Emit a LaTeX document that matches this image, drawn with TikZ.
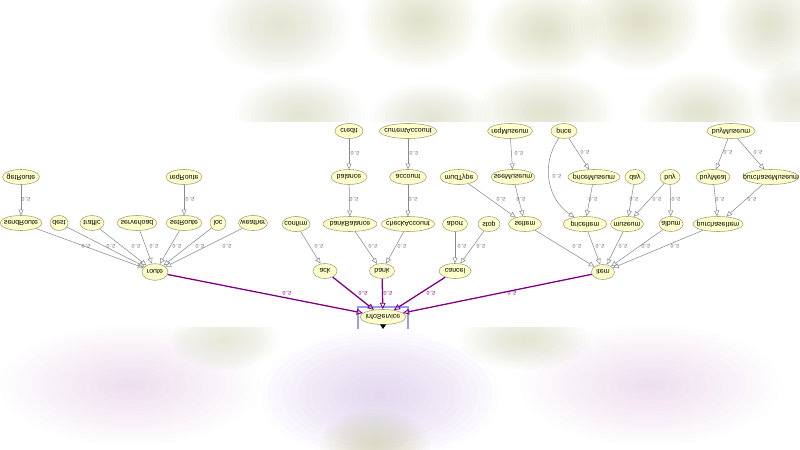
\documentclass[tikz,border=0pt]{standalone}
\usepackage{fontspec}
\setmainfont{Liberation Sans}
\usetikzlibrary{shapes.geometric,arrows.meta}
\definecolor{nodefill}{HTML}{FFFFCC}
\definecolor{nodeline}{HTML}{A3A37A}
\definecolor{edgegray}{HTML}{8A8A8A}
\definecolor{lblgray}{HTML}{6A6A6A}
\definecolor{mainpurple}{HTML}{800080}
\definecolor{boxblue}{HTML}{9A9AF0}
\definecolor{olivebg}{HTML}{C8C898}
\definecolor{lavbg}{HTML}{CDAEE0}
\newcommand{\fl}[1]{\makebox[0pt]{\scalebox{1}[-1]{#1}}}
% soft blob: x, y, rx, ry, colour, per-layer opacity
\newcommand{\softblob}[6]{%
  \foreach \k in {1,...,16}{%
    \fill[#5, opacity=#6] (#1,#2) ellipse ({#3*\k/16} and {#4*\k/16});}}
\begin{document}
\begin{tikzpicture}[x=0.3mm,y=-0.3mm,
  nd/.style={ellipse, draw=nodeline, fill=nodefill, line width=0.5pt, inner sep=0pt,
    minimum height=4.5mm, minimum width=#1*0.3mm, font=\fontsize{6}{7}\selectfont},
  nd/.default=30,
  gedge/.style={draw=edgegray, line width=0.45pt, -{Triangle[open,length=1.7mm,width=1.5mm]}},
  pedge/.style={draw=mainpurple, line width=1.1pt, -{Triangle[open,length=1.9mm,width=1.7mm,line width=0.7pt]}},
  lbl/.style={font=\fontsize{4.5}{5}\selectfont, text=lblgray, inner sep=0pt},
  plbl/.style={font=\fontsize{4.5}{5}\selectfont, text=mainpurple, inner sep=0pt}
]
\useasboundingbox (0,0) rectangle (800,450);
\fill[white] (0,0) rectangle (800,450);
% background bands
\begin{scope}
\clip (0,0) rectangle (800,122);
\softblob{280}{25}{70}{50}{olivebg}{0.027}
\softblob{420}{20}{60}{50}{olivebg}{0.035}
\softblob{545}{30}{60}{45}{olivebg}{0.035}
\softblob{640}{20}{60}{50}{olivebg}{0.04}
\softblob{770}{25}{50}{50}{olivebg}{0.03}
\softblob{300}{115}{65}{40}{olivebg}{0.027}
\softblob{430}{118}{60}{35}{olivebg}{0.027}
\softblob{545}{112}{70}{40}{olivebg}{0.03}
\softblob{700}{112}{60}{40}{olivebg}{0.03}
\softblob{795}{100}{40}{40}{olivebg}{0.025}
\end{scope}
\begin{scope}
\clip (0,328) rectangle (800,450);
\softblob{130}{385}{130}{60}{lavbg}{0.02}
\softblob{380}{395}{120}{65}{lavbg}{0.03}
\softblob{650}{385}{130}{60}{lavbg}{0.02}
\softblob{225}{340}{55}{30}{olivebg}{0.025}
\softblob{525}{340}{65}{30}{olivebg}{0.027}
\softblob{375}{445}{55}{35}{olivebg}{0.04}
\end{scope}

% row A
\node[nd=28] (credit) at (349,131) {\fl{credit}};
\node[nd=57] (currentAccount) at (408,131) {\fl{currentAccount}};
\node[nd=45] (reqMuseum) at (510,131) {\fl{reqMuseum}};
\node[nd=26] (price) at (564,131) {\fl{price}};
\node[nd=48] (buyMuseumT) at (731,131) {\fl{buyMuseum}};
% row B
\node[nd=37] (getRoute) at (21,177) {\fl{getRoute}};
\node[nd=36] (reqRoute) at (184,177) {\fl{reqRoute}};
\node[nd=36] (balance) at (349,177) {\fl{balance}};
\node[nd=37] (account) at (408,177) {\fl{account}};
\node[nd=38] (mudType) at (459,177) {\fl{mudType}};
\node[nd=44] (museumB) at (513,177) {\fl{seeMuseum}};
\node[nd=52] (priceMuseum) at (594,177) {\fl{priceMuseum}};
\node[nd=20] (day) at (635,177) {\fl{day}};
\node[nd=20] (buy) at (670,177) {\fl{buy}};
\node[nd=34] (buyB) at (713,177) {\fl{buyMeal}};
\node[nd=55] (purchaseMuseum) at (771,177) {\fl{purchaseMuseum}};
% row C
\node[nd=42] (sendRoute) at (21,223) {\fl{sendRoute}};
\node[nd=18] (dest) at (59,223) {\fl{dest}};
\node[nd=24] (traffic) at (92,223) {\fl{traffic}};
\node[nd=40] (serverload) at (137,223) {\fl{serverload}};
\node[nd=36] (setRoute) at (184,223) {\fl{setRoute}};
\node[nd=16] (loc) at (218,223) {\fl{loc}};
\node[nd=29] (weather) at (253,223) {\fl{weather}};
\node[nd=28] (confirm) at (296,224) {\fl{confirm}};
\node[nd=54] (bankBalance) at (350,224) {\fl{bankBalance}};
\node[nd=53] (checkAccount) at (408,224) {\fl{checkAccount}};
\node[nd=25] (abort) at (455,224) {\fl{abort}};
\node[nd=22] (stop) at (489,224) {\fl{stop}};
\node[nd=33] (mealItem) at (525,224) {\fl{seltem}};
\node[nd=44] (priceItem) at (585,224) {\fl{priceItem}};
\node[nd=33] (museum) at (627,224) {\fl{museum}};
\node[nd=24] (album) at (671,224) {\fl{album}};
\node[nd=50] (purchaseItem) at (718,224) {\fl{purchaseItem}};
% row D
\node[nd=26, minimum height=5mm] (route) at (155,272) {\fl{route}};
\node[nd=24] (ack) at (325,271) {\fl{ack}};
\node[nd=25] (bank) at (382,271) {\fl{bank}};
\node[nd=32] (cancel) at (455,271) {\fl{cancel}};
\node[nd=23] (item) at (603,272) {\fl{item}};
% row E
\node[nd=46] (infoService) at (383,317) {\fl{infoService}};
\draw[boxblue, line width=1pt] (358,329) -- (358,307) -- (408,307) -- (408,329);
\fill[black] (380,324.5) -- (386,324.5) -- (383,329) -- cycle;

% gray edges
\draw[gedge] (getRoute) -- (sendRoute);
\draw[gedge] (reqRoute) -- (setRoute);
\foreach \s in {sendRoute,dest,traffic,serverload,setRoute,loc,weather}
  \draw[gedge] (\s) -- (route);
\draw[gedge] (credit) -- (balance);
\draw[gedge] (balance) -- (bankBalance);
\draw[gedge] (currentAccount) -- (account);
\draw[gedge] (account) -- (checkAccount);
\draw[gedge] (confirm) -- (ack);
\draw[gedge] (bankBalance) -- (bank);
\draw[gedge] (checkAccount) -- (bank);
\draw[gedge] (abort) -- (cancel);
\draw[gedge] (stop) -- (cancel);
\draw[gedge] (reqMuseum) -- (museumB);
\draw[gedge] (mudType) -- (mealItem);
\draw[gedge] (museumB) -- (mealItem);
\draw[gedge] (price) -- (priceMuseum);
\draw[gedge] (price) .. controls (540,165) and (548,200) .. (priceItem);
\draw[gedge] (priceMuseum) -- (priceItem);
\draw[gedge] (day) -- (museum);
\draw[gedge] (buy) -- (museum);
\draw[gedge] (buy) -- (album);
\draw[gedge] (buyMuseumT) -- (buyB);
\draw[gedge] (buyMuseumT) -- (purchaseMuseum);
\draw[gedge] (buyB) -- (purchaseItem);
\draw[gedge] (purchaseMuseum) -- (purchaseItem);
\foreach \s in {mealItem,priceItem,museum,album,purchaseItem}
  \draw[gedge] (\s) -- (item);
% purple edges
\foreach \s in {route,ack,bank,cancel,item}
  \draw[pedge] (\s) -- (infoService);

% labels
\foreach \p in {(355,153),(414,153),(519,153),(585,152),(557,176),(728,152),(758,152),
  (26,199),(190,199),(354,199),(413,199),(501,199),(521,199),(593,199),(634,199),(657,199),(676,199),(720,199),(752,199),
  (86,246),(111,246),(136,246),(154,246),(177,246),(200,246),(227,246),
  (319,246),(373,246),(402,246),(462,246),(481,246),
  (577,246),(600,246),(623,246),(646,246),(675,246)}
  \node[lbl] at \p {\fl{0..5}};
\foreach \p in {(287,293),(363,293),(388,293),(431,293),(512,293)}
  \node[plbl] at \p {\fl{0..5}};
\end{tikzpicture}
\end{document}
